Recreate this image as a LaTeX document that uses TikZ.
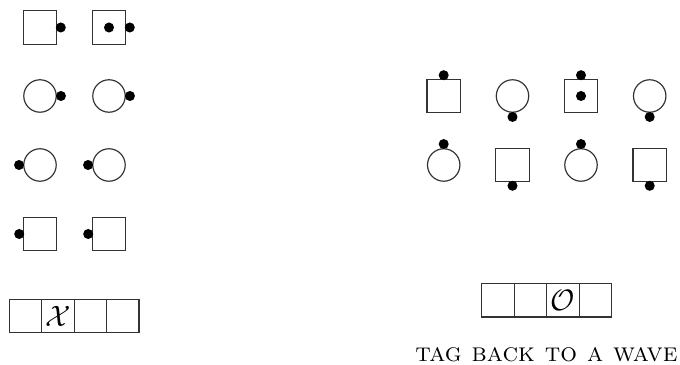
\documentclass[tikz,border=0pt]{standalone}
\usepackage{amsmath,amssymb}
\usepackage{tikz}
\usetikzlibrary{positioning}
\tikzset{
  sqbox/.style={draw=black!80,minimum size=11.3pt,inner sep=0pt,outer sep=0pt},
  rdbox/.style={draw=black!80,circle,minimum size=11pt,inner sep=0pt,outer sep=0pt},
  pin/.style={circle,fill=black,minimum size=3.4pt,inner sep=0pt},
  cell/.style={draw=black!80,minimum width=11pt,minimum height=11.3pt,inner sep=0pt,outer sep=0pt}
}

\begin{document}
\begin{tikzpicture}[x=0.339pt,y=-0.339pt]
\useasboundingbox (0,0) rectangle (680,365);
% left block
\node[sqbox] (sqA) at (40,27.5) {};
\node[sqbox] (sqB) at (109,27.5) {};
\node[pin] at ([xshift=1.4pt]sqA.east) {};
\node[pin] at ([xshift=1.4pt]sqB.east) {};
\node[pin] at (sqB.center) {};
\node[rdbox] (rdA) at (40,96) {};
\node[rdbox] (rdB) at (109,96) {};
\node[pin] at ([xshift=1.6pt]rdA.east) {};
\node[pin] at ([xshift=1.6pt]rdB.east) {};
\node[rdbox] (rdC) at (40,165) {};
\node[rdbox] (rdD) at (109,165) {};
\node[pin] at ([xshift=-1.6pt]rdC.west) {};
\node[pin] at ([xshift=-1.6pt]rdD.west) {};
\node[sqbox] (sqC) at (40,234) {};
\node[sqbox] (sqD) at (109,234) {};
\node[pin] at ([xshift=-1.4pt]sqC.west) {};
\node[pin] at ([xshift=-1.4pt]sqD.west) {};
\node[cell] (xa) at (25.5,316) {};
\node[cell,right=0pt of xa] (xb) {$\mathcal{X}$};
\node[cell,right=0pt of xb] (xc) {};
\node[cell,right=0pt of xc] (xd) {};
% right block
\node[sqbox] (sqE) at (443.7,96) {};
\node[rdbox] (rdE) at (512.5,96) {};
\node[sqbox] (sqF) at (581,96) {};
\node[rdbox] (rdF) at (649.7,96) {};
\node[pin] at ([yshift=1.4pt]sqE.north) {};
\node[pin] at ([yshift=-1.6pt]rdE.south) {};
\node[pin] at ([yshift=1.4pt]sqF.north) {};
\node[pin] at (sqF.center) {};
\node[pin] at ([yshift=-1.6pt]rdF.south) {};
\node[rdbox] (rdG) at (443.7,165) {};
\node[sqbox] (sqG) at (512.5,165) {};
\node[rdbox] (rdH) at (581,165) {};
\node[sqbox] (sqH) at (649.7,165) {};
\node[pin] at ([yshift=1.6pt]rdG.north) {};
\node[pin] at ([yshift=-1.4pt]sqG.south) {};
\node[pin] at ([yshift=1.6pt]rdH.north) {};
\node[pin] at ([yshift=-1.4pt]sqH.south) {};
\node[cell] (oa) at (498,300.3) {};
\node[cell,right=0pt of oa] (ob) {};
\node[cell,right=0pt of ob] (oc) {$\mathcal{O}$};
\node[cell,right=0pt of oc] (od) {};
\node[anchor=base east,inner sep=0pt] (tag) at (678,361.5) {\resizebox{88.8pt}{!}{\textsc{tag back to a wave}}};
\end{tikzpicture}
\end{document}
